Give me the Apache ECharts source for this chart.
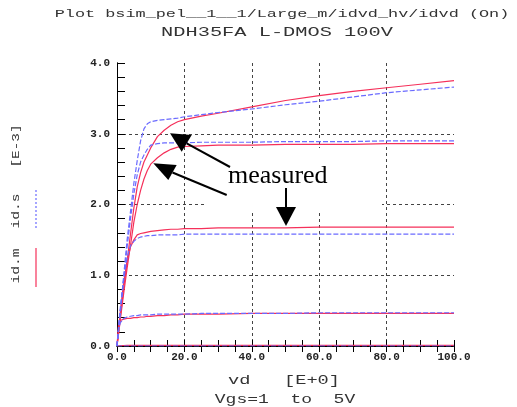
<!DOCTYPE html>
<html>
<head>
<meta charset="utf-8">
<script src="https://cdn.jsdelivr.net/npm/echarts@6/dist/echarts.min.js"></script>
<style>
html, body { margin: 0; padding: 0; background: #fff; }
#chart { width: 517px; height: 407px; }
</style>
</head>
<body>
<div id="chart"></div>
<script>
// drain voltage points (V)
const vd = [0, 0.5, 1, 2, 3, 4, 5, 6, 7, 8, 9, 10, 12, 14, 16, 18, 20, 25, 30, 40, 50, 60, 70, 80, 90, 100];

// measured id.m [E-3], Vgs = 1..5
const idM1 = [0, 0.005, 0.006, 0.007, 0.008, 0.008, 0.008, 0.008, 0.008, 0.008, 0.008, 0.008, 0.008, 0.008, 0.008, 0.008, 0.008, 0.008, 0.008, 0.008, 0.008, 0.008, 0.008, 0.008, 0.008, 0.008];
const idM2 = [0, 0.32, 0.36, 0.38, 0.39, 0.39, 0.40, 0.40, 0.41, 0.41, 0.42, 0.42, 0.43, 0.43, 0.44, 0.44, 0.45, 0.45, 0.45, 0.46, 0.46, 0.46, 0.46, 0.46, 0.46, 0.46];
const idM3 = [0, 0.25, 0.50, 0.90, 1.20, 1.40, 1.50, 1.57, 1.59, 1.60, 1.61, 1.62, 1.63, 1.64, 1.65, 1.65, 1.66, 1.66, 1.67, 1.67, 1.67, 1.68, 1.68, 1.68, 1.68, 1.68];
const idM4 = [0, 0.18, 0.38, 0.75, 1.10, 1.42, 1.75, 2.00, 2.20, 2.36, 2.48, 2.57, 2.66, 2.73, 2.78, 2.81, 2.82, 2.83, 2.84, 2.84, 2.85, 2.85, 2.85, 2.86, 2.86, 2.86];
const idM5 = [0, 0.20, 0.42, 0.82, 1.20, 1.58, 1.95, 2.25, 2.45, 2.60, 2.70, 2.80, 2.96, 3.05, 3.12, 3.17, 3.20, 3.25, 3.29, 3.38, 3.47, 3.54, 3.60, 3.65, 3.70, 3.75];

// simulated id.s [E-3], Vgs = 1..5
const idS1 = [0, 0, 0, 0, 0, 0, 0, 0, 0, 0, 0, 0, 0, 0, 0, 0, 0, 0, 0, 0, 0, 0, 0, 0, 0, 0];
const idS2 = [0, 0.25, 0.33, 0.39, 0.41, 0.42, 0.43, 0.43, 0.44, 0.44, 0.44, 0.44, 0.45, 0.45, 0.45, 0.45, 0.45, 0.46, 0.46, 0.46, 0.46, 0.47, 0.47, 0.47, 0.47, 0.47];
const idS3 = [0, 0.30, 0.55, 0.95, 1.25, 1.42, 1.48, 1.52, 1.54, 1.55, 1.56, 1.56, 1.57, 1.57, 1.57, 1.57, 1.58, 1.58, 1.58, 1.58, 1.58, 1.58, 1.58, 1.58, 1.58, 1.58];
const idS4 = [0, 0.24, 0.48, 0.95, 1.40, 1.80, 2.15, 2.42, 2.60, 2.70, 2.78, 2.84, 2.86, 2.87, 2.87, 2.87, 2.87, 2.88, 2.88, 2.88, 2.89, 2.89, 2.89, 2.90, 2.90, 2.90];
const idS5 = [0, 0.25, 0.50, 1.00, 1.50, 1.90, 2.30, 2.62, 2.90, 3.07, 3.14, 3.17, 3.19, 3.20, 3.21, 3.22, 3.24, 3.27, 3.30, 3.35, 3.41, 3.46, 3.52, 3.58, 3.62, 3.66];

const measured = [idM1, idM2, idM3, idM4, idM5];
const simulated = [idS1, idS2, idS3, idS4, idS5];

const RED = '#f5305a';
const BLUE = '#6b6bff';
const MONO = '"Liberation Mono", "DejaVu Sans Mono", monospace';

function pairs(values) {
    return vd.map((v, i) => [v, values[i]]);
}

// plotter style text: monospace stretched to the plotter's wide pitch
function plotText(text, x, y, size, pitch, rot) {
    return {
        type: 'text',
        x: x,
        y: y,
        rotation: rot || 0,
        scaleX: pitch / (size * 0.6),
        z: 20,
        style: {
            text: text,
            fontSize: size,
            fontFamily: MONO,
            fill: '#333',
            align: 'center',
            verticalAlign: 'middle'
        }
    };
}

function arrowHead(points) {
    return { type: 'polygon', z: 30, shape: { points: points }, style: { fill: '#000' } };
}

function arrowLine(x1, y1, x2, y2) {
    return { type: 'line', z: 30, shape: { x1: x1, y1: y1, x2: x2, y2: y2 }, style: { stroke: '#000', lineWidth: 2 } };
}

const series = [];
measured.forEach((arr, k) => {
    series.push({
        name: 'id.m Vgs=' + (k + 1),
        type: 'line',
        data: pairs(arr),
        showSymbol: false,
        smooth: false,
        z: 3,
        lineStyle: { color: RED, width: 1.2 }
    });
});
simulated.forEach((arr, k) => {
    series.push({
        name: 'id.s Vgs=' + (k + 1),
        type: 'line',
        data: pairs(arr),
        showSymbol: false,
        smooth: false,
        z: 4,
        lineStyle: { color: BLUE, width: 1.2, type: [5, 2] }
    });
});

const chart = echarts.init(document.getElementById('chart'));

const option = {
    animation: false,
    backgroundColor: '#fff',
    grid: { left: 117, right: 63, top: 63, bottom: 61 },
    xAxis: [
        {
            type: 'value', min: 0, max: 100, interval: 20,
            axisLine: { lineStyle: { color: '#000', width: 1 } },
            axisTick: { inside: true, length: 6, lineStyle: { color: '#000' } },
            minorTick: { show: true, splitNumber: 4, length: 6, lineStyle: { color: '#000' } },
            splitLine: { show: true, showMinLine: false, showMaxLine: false, lineStyle: { color: '#444', type: [3, 3] } },
            axisLabel: {
                margin: 6, fontFamily: MONO, fontWeight: 'bold', fontSize: 11, color: '#222',
                formatter: v => v.toFixed(1)
            }
        },
        {
            type: 'value', min: 0, max: 100, interval: 20, position: 'top',
            axisLine: { lineStyle: { color: '#000', width: 1 } },
            axisTick: { inside: true, length: 6, lineStyle: { color: '#000' } },
            minorTick: { show: true, splitNumber: 4, length: 6, lineStyle: { color: '#000' } },
            splitLine: { show: false },
            axisLabel: { show: false }
        }
    ],
    yAxis: [
        {
            type: 'value', min: 0, max: 4, interval: 1,
            axisLine: { lineStyle: { color: '#000', width: 1 } },
            axisTick: { inside: true, length: 8, lineStyle: { color: '#000' } },
            minorTick: { show: true, splitNumber: 5, length: 8, lineStyle: { color: '#000' } },
            splitLine: { show: true, showMinLine: false, showMaxLine: false, lineStyle: { color: '#444', type: [3, 3] } },
            axisLabel: {
                margin: 7, fontFamily: MONO, fontWeight: 'bold', fontSize: 11, color: '#222',
                formatter: v => v.toFixed(1)
            }
        },
        {
            type: 'value', min: 0, max: 4, interval: 1, position: 'right',
            axisLine: { show: true, lineStyle: { color: '#000', width: 1 } },
            axisTick: { show: false },
            splitLine: { show: false },
            axisLabel: { show: false }
        }
    ],
    series: series,
    graphic: [
        // titles
        plotText('Plot bsim_pel__1__1/Large_m/idvd_hv/idvd (On)', 282, 14, 10.5, 10.1),
        plotText('NDH35FA L-DMOS 100V', 277, 33, 12, 12.2),
        // axis names
        plotText('vd   [E+0]', 284, 381, 12, 11.2),
        plotText('Vgs=1  to  5V', 285, 400, 12, 10.8),
        // left legend
        plotText('[E-3]', 16, 146, 11, 8.6, Math.PI / 2),
        plotText('id.s', 16, 211, 11, 8.8, Math.PI / 2),
        plotText('id.m', 16, 266, 11, 8.8, Math.PI / 2),
        { type: 'line', z: 20, shape: { x1: 36, y1: 190, x2: 36, y2: 230 }, style: { stroke: BLUE, lineWidth: 1.2, lineDash: [2, 2] } },
        { type: 'line', z: 20, shape: { x1: 36, y1: 248, x2: 36, y2: 287 }, style: { stroke: RED, lineWidth: 1.2 } },
        // pasted annotation box
        { type: 'rect', z: 1, shape: { x: 207, y: 148, width: 175, height: 62 }, style: { fill: '#fff' } },
        {
            type: 'text', x: 228, y: 176, z: 30,
            style: { text: 'measured', fontSize: 26, fontFamily: '"Liberation Serif", "Times New Roman", serif', fill: '#000', align: 'left', verticalAlign: 'middle' }
        },
        arrowLine(186.7, 143.3, 230, 167),
        arrowHead([[170, 133.3], [191.7, 135], [181.7, 151.7]]),
        arrowLine(172.5, 172.5, 226.7, 195),
        arrowHead([[153.3, 163.3], [176.7, 165], [168.3, 180]]),
        arrowLine(286, 188, 286, 208),
        arrowHead([[276, 207], [296, 207], [286, 226]])
    ]
};

chart.setOption(option);
</script>
</body>
</html>
